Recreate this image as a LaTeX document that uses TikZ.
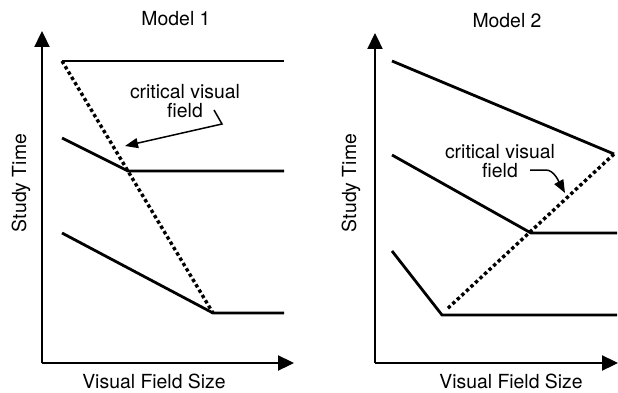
\documentclass[tikz,border=0pt]{standalone}
\usepackage{fontspec}
\setmainfont{TeX Gyre Heros}
\usetikzlibrary{arrows.meta, positioning}

\tikzset{
    axis/.style={line width=2.3pt, -{Triangle[length=16pt, width=15pt]}},
    curve/.style={line width=2.8pt, line join=miter},
    critical/.style={line width=3.4pt, dash pattern=on 3.4pt off 2.8pt},
    pointer/.style={line width=1.5pt, -{Triangle[length=13pt, width=10pt]}},
    lbl/.style={font=\fontsize{19.4}{19}\selectfont, inner sep=0pt, align=center},
}

\begin{document}
\begin{tikzpicture}[x=1pt, y=-1pt]
    \useasboundingbox (0,0) rectangle (618,393);

        % --- Model 1 ---
        \node[lbl] (title1) at (176,19) {Model 1};

        % 坐标轴
        \coordinate (o1) at (42,363);
        \coordinate (ytip1) at (42,31);
        \coordinate (xtip1) at (294,363);
        \draw[axis] (o1) -- (ytip1);
        \draw[axis] (o1) -- (xtip1);
        \node[lbl, rotate=90] (ylab1) at (21,183) {Study Time};
        \node[lbl] (xlab1) at (154,381) {Visual Field Size};

        % 三条曲线
        \coordinate (a1) at (62,61);
        \coordinate (b1) at (62,138);
        \coordinate (c1) at (62,233);
        \coordinate (kb1) at (128,171);
        \coordinate (kc1) at (213,313);
        \draw[curve] (a1) -- (284,61);
        \draw[curve] (b1) -- (kb1) -- (284,171);
        \draw[curve] (c1) -- (kc1) -- (284,313);

        % 临界视野 (虚线)
        \draw[critical] (a1) -- (kc1);
        \node[lbl] (crit1) at (185,101) {critical visual\\field};
        \coordinate (p1) at (214,110);
        \coordinate (q1) at (222,124);
        \coordinate (r1) at (125,146);
        \draw[pointer] (p1) -- (q1) -- (r1);

        % --- Model 2 ---
        \begin{scope}[xshift=333pt]
            \node[lbl] (title2) at (174,21) {Model 2};

            \coordinate (o2) at (42,363);
            \coordinate (ytip2) at (42,33);
            \coordinate (xtip2) at (285,363);
            \draw[axis] (o2) -- (ytip2);
            \draw[axis] (o2) -- (xtip2);
            \node[lbl, rotate=90] (ylab2) at (18,183) {Study Time};
            \node[lbl] (xlab2) at (178,381) {Visual Field Size};

            \coordinate (a2) at (59,61);
            \coordinate (ka2) at (281,154);
            \coordinate (b2) at (59,155);
            \coordinate (kb2) at (198,233);
            \coordinate (c2) at (59,251);
            \coordinate (kc2) at (109,315);
            \draw[curve] (a2) -- (ka2);
            \draw[curve] (b2) -- (kb2) -- (284,233);
            \draw[curve] (c2) -- (kc2) -- (284,315);

            % 临界视野
            \draw[critical] (ka2) -- (113,310);
            \node[lbl] (crit2) at (167,161) {critical visual\\field};
            \coordinate (p2) at (197,170);
            \coordinate (q2) at (213,170);
            \coordinate (r2) at (232,193);
            \draw[pointer] (p2) -- (q2) .. controls (221,170) and (226,182) .. (r2);
        \end{scope}

    \end{tikzpicture}
\end{document}
